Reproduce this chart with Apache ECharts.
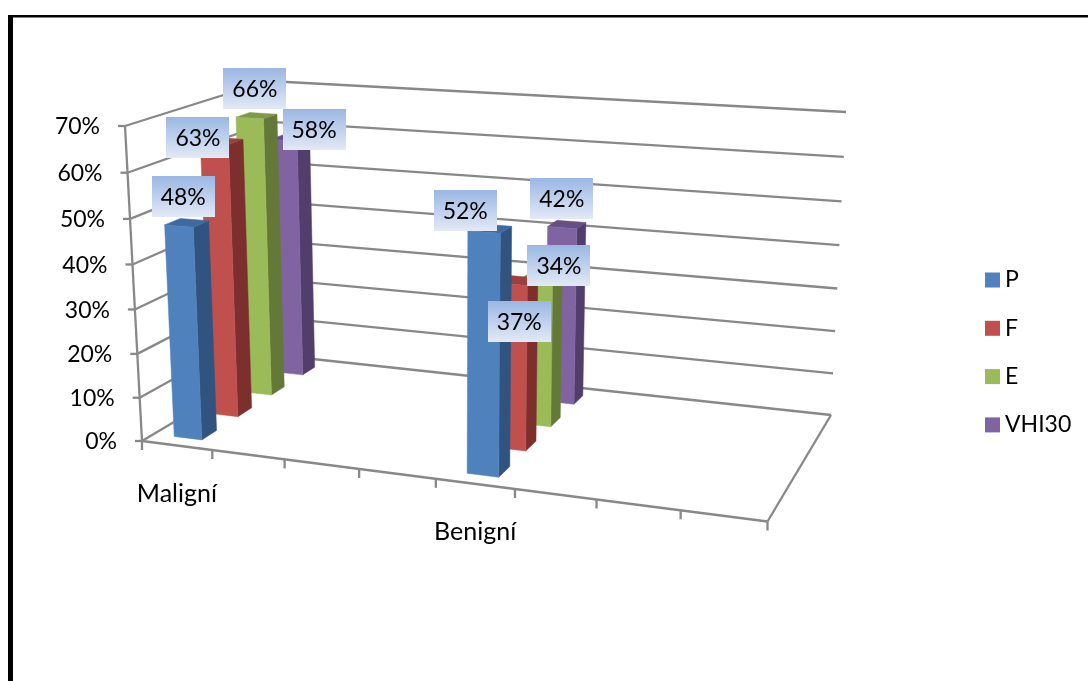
<!DOCTYPE html>
<html>
<head>
<meta charset="utf-8">
<title>P, F, E, VHI30</title>
<style>html,body{margin:0;padding:0;background:#fff}#chart{width:1088px;height:681px}</style>
<script src="https://cdn.jsdelivr.net/npm/echarts@6/dist/echarts.min.js"></script>
</head>
<body>
<div id="chart"></div>
<script>
// Percent of patients per diagnosis group, one array per questionnaire domain.
const categories = ['Maligní', '', '', '', 'Benigní', '', '', ''];
const categorySlots = [0, 4];
const seriesNames = ['P', 'F', 'E', 'VHI30'];
const P = [48, 52];
const F = [63, 37];
const E = [66, 34];
const VHI30 = [58, 42];
const axisValues = [0, 10, 20, 30, 40, 50, 60, 70];
const tickLabels = ['0%', '10%', '20%', '30%', '40%', '50%', '60%', '70%'];

// Face colours: front, side, top.
const palette = [
  ['#4f81bd', '#30547f', '#3f6a9f'],
  ['#c0504d', '#7c2f2d', '#9c3f3d'],
  ['#9bbb59', '#647838', '#7f984a'],
  ['#8064a2', '#523e6b', '#664f85']
];
// Callout displacement from the top of each column, per domain and group.
const calloutShift = [
  [[-3, -26], [-24, -18]],
  [[-22, -3], [2, 41]],
  [[1, -27], [16, -10]],
  [[26, -8], [-5, -26]]
];

const FONT = 'Lato, "Open Sans", sans-serif';
const VALUE_SIZE = 23;
const NAME_SIZE = 25;
const LINE = '#888888';
const DEPTH_ROWS = seriesNames.length;
const COLUMN_SHARE = 0.4; // column width as a share of its band (gap width 150%)

// Corners of the floor and ceiling of the 3D box: near-left, near-right, far-right, far-left.
const floorQuad = [[142, 441], [767.5, 521.5], [831, 415], [285, 356]];
const ceilQuad = [[125, 126], [781, 168], [846, 112], [268, 81]];
// The columns sit on a slightly different plane pair: they converge less than the walls.
const columnFloorQuad = [[142, 441], [771, 521.5], [834, 415], [280, 357]];
const columnCeilQuad = [[125.7, 126], [781, 168], [845, 112], [272, 81]];

function homography(q) {
  const [p0, p1, p2, p3] = q;
  const sx = p0[0] - p1[0] + p2[0] - p3[0], sy = p0[1] - p1[1] + p2[1] - p3[1];
  const dx1 = p1[0] - p2[0], dx2 = p3[0] - p2[0], dy1 = p1[1] - p2[1], dy2 = p3[1] - p2[1];
  const det = dx1 * dy2 - dx2 * dy1;
  const g = (sx * dy2 - dx2 * sy) / det, h = (dx1 * sy - sx * dy1) / det;
  const a = p1[0] - p0[0] + g * p1[0], b = p3[0] - p0[0] + h * p3[0];
  const d = p1[1] - p0[1] + g * p1[1], e = p3[1] - p0[1] + h * p3[1];
  return (u, v) => {
    const den = g * u + h * v + 1;
    return [(a * u + b * v + p0[0]) / den, (d * u + e * v + p0[1]) / den];
  };
}
const wallPlanes = [homography(floorQuad), homography(ceilQuad)];
const columnPlanes = [homography(columnFloorQuad), homography(columnCeilQuad)];

// u along the categories, v into the depth, w up the value axis (all 0..1).
function project(u, v, w, planes) {
  const pair = planes || wallPlanes;
  const f = pair[0](u, v), t = pair[1](u, v);
  const k = w - 0.045 * w * (1 - w); // foreshortening of the vertical axis
  return [f[0] + (t[0] - f[0]) * k, f[1] + (t[1] - f[1]) * k];
}
// Reads a data pair through the hidden cartesian axes and returns box coordinates.
function toBox(params, api, cat, val) {
  const cs = params.coordSys, pt = api.coord([cat, val]);
  return [(pt[0] - cs.x) / cs.width, (cs.y + cs.height - pt[1]) / cs.height];
}
function seg(a, b, width) {
  return {
    type: 'line', silent: true,
    shape: { x1: a[0], y1: a[1], x2: b[0], y2: b[1] },
    style: { stroke: LINE, lineWidth: width || 2.3, fill: null }
  };
}
function label(text, x, y, align, size) {
  return {
    type: 'text', silent: true,
    style: { text, x, y, textAlign: align, textVerticalAlign: 'middle', font: size + 'px ' + FONT, fill: '#000' }
  };
}

// One gridline per value-axis tick, running along the left wall and the back wall.
function renderValueTick(params, api) {
  const w = toBox(params, api, 0, api.value(0))[1];
  const near = project(0, 0, w), far = project(0, 1, w), right = project(1, 1, w);
  return {
    type: 'group',
    children: [
      seg(near, far), seg(far, right),
      seg(near, [near[0] - 7, near[1]]),
      label(tickLabels[params.dataIndex], near[0] - 25, near[1] + 1, 'right', VALUE_SIZE)
    ]
  };
}
// Floor edges, vertical axis and the category ticks with their names.
function renderCategoryTick(params, api) {
  const i = api.value(0);
  const box = toBox(params, api, i, 0);
  const band = api.size([1, 0])[0] / params.coordSys.width;
  const left = box[0] - band / 2;
  const a = project(left, 0, 0);
  const kids = [seg(a, [a[0], a[1] + 9])];
  if (i === 0) {
    kids.push(seg(project(0, 0, 0), project(0, 0, 1)));
  }
  if (i === categories.length - 1) {
    const end = project(1, 0, 0);
    kids.push(seg(end, [end[0], end[1] + 9]));
    kids.push(seg(project(0, 0, 0), end));
    kids.push(seg(end, project(1, 1, 0)));
  }
  if (categories[i]) {
    const c = project(box[0], 0, 0);
    kids.push(label(categories[i], c[0], c[1] + 48, 'center', NAME_SIZE));
  }
  return { type: 'group', children: kids };
}
function columnRenderer(row) {
  return function (params, api) {
    const box = toBox(params, api, api.value(0), api.value(1));
    const band = api.size([1, 0])[0] / params.coordSys.width;
    const hu = band * COLUMN_SHARE / 2;
    const hv = COLUMN_SHARE / DEPTH_ROWS / 2;
    const v = (row + 0.5) / DEPTH_ROWS;
    const u0 = box[0] - hu, u1 = box[0] + hu, v0 = v - hv, v1 = v + hv, w = box[1];
    const face = (pts, fill) => ({
      type: 'polygon', shape: { points: pts.map(p => project(p[0], p[1], p[2], columnPlanes)) },
      style: { fill, stroke: fill, lineWidth: 0.5 }
    });
    const c = palette[row];
    return {
      type: 'group',
      children: [
        face([[u1, v0, 0], [u1, v1, 0], [u1, v1, w], [u1, v0, w]], c[1]),
        face([[u0, v0, w], [u1, v0, w], [u1, v1, w], [u0, v1, w]], c[2]),
        face([[u0, v0, 0], [u1, v0, 0], [u1, v0, w], [u0, v0, w]], c[0])
      ]
    };
  };
}
const calloutFill = {
  type: 'linear', x: 0, y: 0, x2: 0, y2: 1,
  colorStops: [{ offset: 0, color: '#9ab7e3' }, { offset: 1, color: '#e3e9f6' }]
};
// Value callouts: gradient box with the percentage, displaced from the column top.
function renderCallout(params, api) {
  const row = api.value(2), group = api.value(3);
  const box = toBox(params, api, api.value(0), api.value(1));
  const top = project(box[0], (row + 0.5) / DEPTH_ROWS, box[1]);
  const shift = calloutShift[row][group];
  const cx = top[0] + shift[0], cy = top[1] + shift[1];
  return {
    type: 'group',
    children: [
      { type: 'rect', silent: true, shape: { x: Math.round(cx - 31.5), y: Math.round(cy - 20.5), width: 63, height: 41 }, style: { fill: calloutFill } },
      label(api.value(1) + '%', cx, cy + 1, 'center', VALUE_SIZE)
    ]
  };
}

const domainValues = [P, F, E, VHI30];
const columnSeries = seriesNames.map((name, row) => ({
  name, type: 'custom', z: 8 - row, silent: true,
  itemStyle: { color: palette[row][0] },
  renderItem: columnRenderer(row),
  encode: { x: 0, y: 1 },
  data: domainValues[row].map((val, g) => [categorySlots[g], val])
}));
const calloutData = [];
domainValues.forEach((vals, row) => vals.forEach((val, g) => calloutData.push([categorySlots[g], val, row, g])));

const chart = echarts.init(document.getElementById('chart'), null, { renderer: 'canvas' });
chart.setOption({
  animation: false,
  backgroundColor: '#fff',
  color: palette.map(c => c[0]),
  grid: { left: 100, right: 100, top: 100, bottom: 100, show: false },
  xAxis: { type: 'category', data: categories, show: false },
  yAxis: { type: 'value', min: 0, max: 70, interval: 10, show: false },
  legend: {
    data: seriesNames, orient: 'vertical', left: 985, top: 268, padding: 0,
    icon: 'rect', itemWidth: 15, itemHeight: 15, itemGap: 24.3, selectedMode: false,
    textStyle: { fontFamily: FONT, fontSize: VALUE_SIZE, color: '#000', lineHeight: 24 }
  },
  graphic: [
    { type: 'rect', silent: true, shape: { x: 8, y: 15, width: 1080, height: 2.4 }, style: { fill: '#000' } },
    { type: 'rect', silent: true, shape: { x: 8, y: 15, width: 5, height: 666 }, style: { fill: '#000' } }
  ],
  series: [
    {
      name: 'walls', type: 'custom', z: 1, silent: true,
      renderItem: renderValueTick, encode: { y: 0 },
      data: axisValues.map(v => [v])
    },
    {
      name: 'floor', type: 'custom', z: 2, silent: true,
      renderItem: renderCategoryTick, encode: { x: 0 },
      data: categories.map((c, i) => [i])
    },
    ...columnSeries,
    {
      name: 'callouts', type: 'custom', z: 20, silent: true,
      renderItem: renderCallout, encode: { x: 0, y: 1 },
      data: calloutData
    }
  ]
});
</script>
</body>
</html>
